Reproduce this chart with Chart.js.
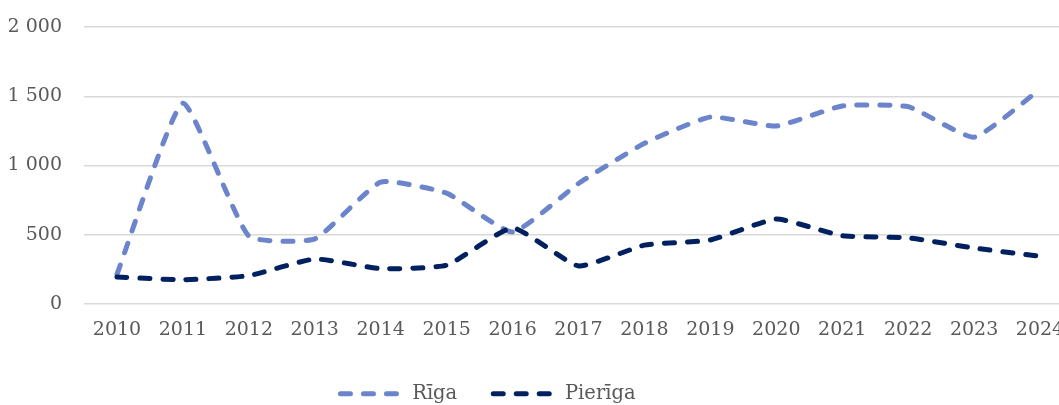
<!DOCTYPE html>
<html>
<head>
<meta charset="utf-8">
<script src="https://cdn.jsdelivr.net/npm/chart.js@4"></script>
<style>
  html, body { margin: 0; padding: 0; background: #fff; overflow: hidden; }
  #wrap { width: 1080px; height: 405px; }
</style>
</head>
<body>
<div id="wrap"><canvas id="chart"></canvas></div>
<script>
const years = ['2010', '2011', '2012', '2013', '2014', '2015', '2016', '2017', '2018', '2019', '2020', '2021', '2022', '2023', '2024'];
const riga = [215, 1450, 490, 470, 880, 800, 520, 870, 1160, 1350, 1285, 1430, 1425, 1205, 1550];
const pieriga = [195, 175, 205, 325, 255, 280, 550, 275, 425, 462, 613, 493, 478, 404, 344];
const yTicks = [0, 500, 1000, 1500, 2000];

const textColor = '#595959';
const fontFamily = '"DejaVu Serif", serif';
const dash = [10, 13];

// legend sits a bit left of center and low, like the original
const moveLegend = {
  id: 'moveLegend',
  afterLayout(chart) {
    const lg = chart.legend;
    lg.left -= 53;
    lg.right -= 53;
    lg.top += 1;
    lg.bottom += 1;
  }
};

const ctx = document.getElementById('chart').getContext('2d');
const chart = new Chart(ctx, {
  type: 'line',
  data: {
    labels: years,
    datasets: [{
      label: 'Rīga',
      data: riga,
      borderColor: '#6b84cc',
      backgroundColor: '#6b84cc',
      borderWidth: 5,
      borderDash: dash,
      borderCapStyle: 'round',
      borderJoinStyle: 'round',
      pointRadius: 0,
      tension: 0.15,
      order: 2
    }, {
      label: 'Pierīga',
      data: pieriga,
      borderColor: '#00205f',
      backgroundColor: '#00205f',
      borderWidth: 5,
      borderDash: dash,
      borderCapStyle: 'round',
      borderJoinStyle: 'round',
      pointRadius: 0,
      tension: 0.15,
      order: 1
    }]
  },
  options: {
    responsive: true,
    maintainAspectRatio: false,
    animation: false,
    layout: { padding: { top: 27, left: 9, right: 7, bottom: 0 } },
    plugins: {
      tooltip: { enabled: false },
      legend: {
        position: 'bottom',
        maxHeight: 58,
        labels: {
          usePointStyle: true,
          pointStyle: 'line',
          pointStyleWidth: 62,
          boxHeight: 10,
          padding: 36,
          color: textColor,
          font: { family: fontFamily, size: 19.5 },
          sort: (a, b) => a.datasetIndex - b.datasetIndex,
          generateLabels: chart => {
            const items = Chart.defaults.plugins.legend.labels.generateLabels(chart);
            items.forEach(it => {
              const ds = chart.data.datasets[it.datasetIndex];
              it.lineDash = ds.borderDash;
              it.lineCap = 'round';
              it.lineWidth = ds.borderWidth;
              it.strokeStyle = ds.borderColor;
            });
            return items;
          }
        }
      }
    },
    scales: {
      x: {
        offset: true,
        grid: { display: false },
        border: { display: false },
        afterFit: scale => {
          scale.height = 43;
          scale.paddingLeft = 0;
          scale.paddingRight = 0;
        },
        ticks: {
          color: textColor,
          padding: 7,
          maxRotation: 0,
          font: { family: fontFamily, size: 19 }
        }
      },
      y: {
        min: 0,
        max: 2000,
        afterBuildTicks: axis => { axis.ticks = yTicks.map(v => ({ value: v })); },
        afterFit: scale => {
          scale.width = 75;
          scale.paddingTop = 0;
          scale.paddingBottom = 0;
        },
        grid: { color: '#d9d9d9', lineWidth: 1.5, drawTicks: false },
        border: { display: false },
        ticks: {
          color: textColor,
          padding: 22,
          font: { family: fontFamily, size: 19 },
          callback: v => String(v).replace(/\B(?=(\d{3})+(?!\d))/g, ' ')
        }
      }
    }
  },
  plugins: [moveLegend]
});
</script>
</body>
</html>
